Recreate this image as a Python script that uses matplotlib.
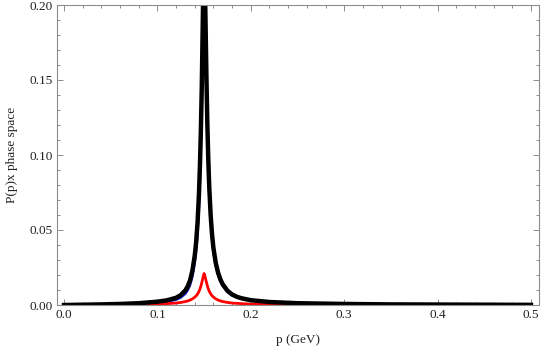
import matplotlib
matplotlib.use("Agg")
import matplotlib.pyplot as plt
from matplotlib.ticker import MultipleLocator

# momentum grid (GeV)
p = [0.0, 0.02, 0.04, 0.06, 0.08, 0.1, 0.11, 0.12, 0.125, 0.13, 0.1325, 0.135, 0.1375,
     0.14, 0.1415, 0.143, 0.1445, 0.1455, 0.1465, 0.1475, 0.1485, 0.1495, 0.15,
     0.1505, 0.1515, 0.1525, 0.1535, 0.1545, 0.1555, 0.157, 0.1585, 0.16, 0.1625,
     0.165, 0.1675, 0.17, 0.175, 0.18, 0.185, 0.19, 0.2, 0.22, 0.25, 0.3, 0.35,
     0.4, 0.45, 0.5]

# total (black)
total = [0.0, 0.0002, 0.0004, 0.0007, 0.0012, 0.0022, 0.0031, 0.0048, 0.0066, 0.0098,
         0.0125, 0.0165, 0.0230, 0.0330, 0.0420, 0.0550, 0.0740, 0.0920, 0.1150,
         0.1450, 0.1850, 0.2250, 0.2400,
         0.2280, 0.1900, 0.1520, 0.1200, 0.0970, 0.0790, 0.0600, 0.0470, 0.0380,
         0.0280, 0.0215, 0.0170, 0.0138, 0.0095, 0.0070, 0.0055, 0.0045, 0.0032,
         0.0020, 0.0012, 0.0007, 0.0004, 0.0003, 0.0002, 0.0001]

# red component
red = [0.0, 0.00005, 0.0001, 0.0002, 0.0003, 0.0006, 0.0009, 0.0013, 0.0017, 0.0023,
       0.0027, 0.0033, 0.0041, 0.0052, 0.0061, 0.0073, 0.0090, 0.0105, 0.0124,
       0.0148, 0.0175, 0.0200, 0.0210,
       0.0202, 0.0178, 0.0152, 0.0128, 0.0108, 0.0092, 0.0075, 0.0062, 0.0053,
       0.0041, 0.0033, 0.0027, 0.0023, 0.0017, 0.0013, 0.0011, 0.0009, 0.0006,
       0.0004, 0.0002, 0.0001, 0.00005, 0.00005, 0.00005, 0.0]

# blue component
blue = [0.0, 0.00015, 0.0003, 0.0005, 0.0009, 0.0016, 0.0022, 0.0035, 0.0049, 0.0075,
        0.0098, 0.0132, 0.0189, 0.0278, 0.0359, 0.0477, 0.0650, 0.0815, 0.1026,
        0.1302, 0.1675, 0.2050, 0.2190,
        0.2180, 0.1810, 0.1444, 0.1136, 0.0916, 0.0744, 0.0563, 0.0439, 0.0354,
        0.0260, 0.0199, 0.0157, 0.0127, 0.0087, 0.0064, 0.0050, 0.0041, 0.0029,
        0.0018, 0.0011, 0.00065, 0.0004, 0.0003, 0.0002, 0.0001]

xticks = [0.0, 0.1, 0.2, 0.3, 0.4, 0.5]
yticks = [0.00, 0.05, 0.10, 0.15, 0.20]

plt.rcParams['font.family'] = ['Liberation Serif', 'DejaVu Serif']

fig = plt.figure(figsize=(5.42, 3.5), dpi=100)
ax = fig.add_axes([57/542, 45/350, (539-57)/542, (305-5)/350])

ax.plot(p, blue, color='#1a1acc', lw=1.7, solid_joinstyle='round')
ax.plot(p, red, color='#ff0000', lw=2.0, solid_joinstyle='round')
ax.plot(p, total, color='black', lw=3.2, solid_joinstyle='round')

ax.set_xlim(-0.0075, 0.5086)
ax.set_ylim(0.0, 0.20)
ax.set_xticks(xticks)
ax.set_xticklabels([f"{v:.1f}" for v in xticks])
ax.set_yticks(yticks)
ax.set_yticklabels([f"{v:.2f}" for v in yticks])
ax.xaxis.set_minor_locator(MultipleLocator(0.02))
ax.yaxis.set_minor_locator(MultipleLocator(0.01))

gray = '#8c8c8c'
for s in ax.spines.values():
    s.set_color(gray)
    s.set_linewidth(0.8)
ax.tick_params(which='both', direction='in', top=True, right=True, color=gray,
               width=0.7, labelsize=9.5, labelcolor='#222222', pad=3)
ax.tick_params(which='major', length=4.5)
ax.tick_params(which='minor', length=2.5)

ax.set_xlabel('p (GeV)', fontsize=9.5, color='#222222', labelpad=9)
ax.set_ylabel('P(p)x phase space', fontsize=9.5, color='#222222', labelpad=8)

fig.savefig('out.png', dpi=100)
